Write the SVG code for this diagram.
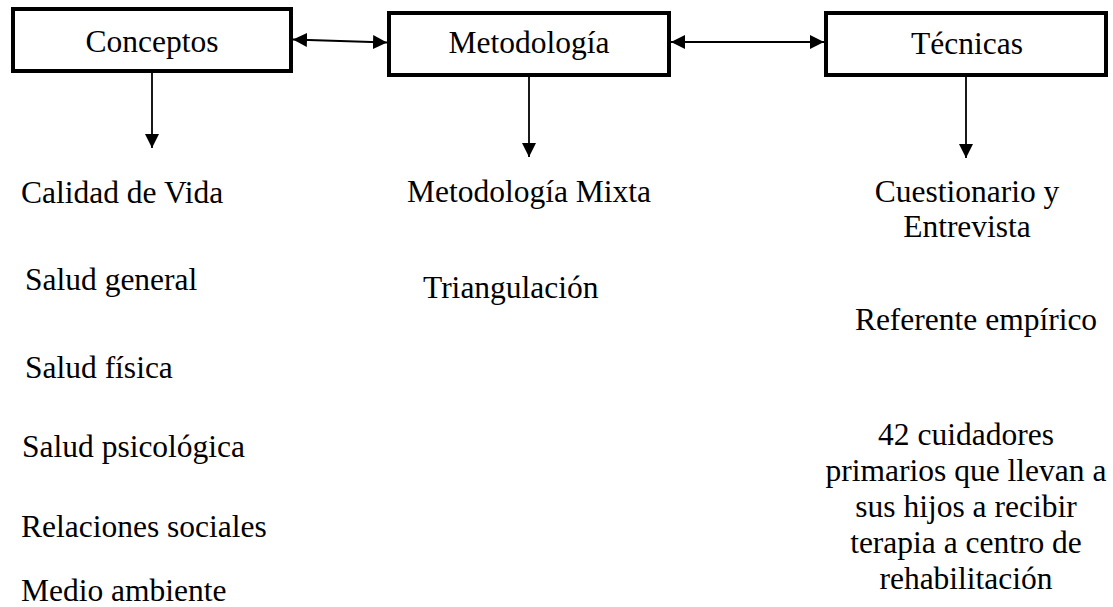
<svg xmlns="http://www.w3.org/2000/svg" width="1113" height="607" viewBox="0 0 1113 607">
<defs>
<marker id="ah" viewBox="0 0 10 10" refX="10" refY="5" markerWidth="14" markerHeight="14" markerUnits="userSpaceOnUse" orient="auto-start-reverse">
<path d="M0,0 L10,5 L0,10 Z" fill="#000"/>
</marker>
</defs>
<rect width="1113" height="607" fill="#fff"/>
<g id="connectors" stroke="#000" stroke-width="1.8" fill="none">
<line x1="293" y1="39.5" x2="387" y2="42.5" marker-start="url(#ah)" marker-end="url(#ah)"/>
<line x1="671" y1="42" x2="824" y2="42" marker-start="url(#ah)" marker-end="url(#ah)"/>
<line x1="152" y1="71" x2="152" y2="148" marker-end="url(#ah)"/>
<line x1="529" y1="75" x2="529" y2="157" marker-end="url(#ah)"/>
<line x1="966" y1="75" x2="966" y2="158" marker-end="url(#ah)"/>
</g>
<g id="node-conceptos">
<rect x="13" y="9" width="278" height="62" fill="#fff" stroke="#000" stroke-width="4"/>
<text font-family="Times New Roman" font-size="31.5" text-anchor="middle" x="152" y="52">Conceptos</text>
</g>
<g id="node-metodologia">
<rect x="389" y="13" width="280" height="62" fill="#fff" stroke="#000" stroke-width="4"/>
<text font-family="Times New Roman" font-size="31.5" text-anchor="middle" x="529" y="53">Metodología</text>
</g>
<g id="node-tecnicas">
<rect x="826" y="13" width="280" height="62" fill="#fff" stroke="#000" stroke-width="4"/>
<text font-family="Times New Roman" font-size="31.5" text-anchor="middle" x="967" y="54">Técnicas</text>
</g>
<g id="conceptos-list">
<text font-family="Times New Roman" font-size="31.5" x="21" y="203">Calidad de Vida</text>
<text font-family="Times New Roman" font-size="31.5" x="25" y="290">Salud general</text>
<text font-family="Times New Roman" font-size="31.5" x="25" y="378">Salud física</text>
<text font-family="Times New Roman" font-size="31.5" x="22" y="457">Salud psicológica</text>
<text font-family="Times New Roman" font-size="31.5" x="21" y="537">Relaciones sociales</text>
<text font-family="Times New Roman" font-size="31.5" x="21" y="601">Medio ambiente</text>
</g>
<g id="metodologia-list">
<text font-family="Times New Roman" font-size="31.5" x="407" y="202">Metodología Mixta</text>
<text font-family="Times New Roman" font-size="31.5" x="423" y="298">Triangulación</text>
</g>
<g id="tecnicas-list">
<text font-family="Times New Roman" font-size="31.5" text-anchor="middle" x="967" y="202">Cuestionario y</text>
<text font-family="Times New Roman" font-size="31.5" text-anchor="middle" x="967" y="237">Entrevista</text>
<text font-family="Times New Roman" font-size="31.5" text-anchor="middle" x="976" y="330">Referente empírico</text>
<text font-family="Times New Roman" font-size="31.5" text-anchor="middle" x="966" y="445">42 cuidadores</text>
<text font-family="Times New Roman" font-size="31.5" text-anchor="middle" x="966" y="481">primarios que llevan a</text>
<text font-family="Times New Roman" font-size="31.5" text-anchor="middle" x="966" y="517">sus hijos a recibir</text>
<text font-family="Times New Roman" font-size="31.5" text-anchor="middle" x="966" y="553">terapia a centro de</text>
<text font-family="Times New Roman" font-size="31.5" text-anchor="middle" x="966" y="589">rehabilitación</text>
</g>
</svg>
